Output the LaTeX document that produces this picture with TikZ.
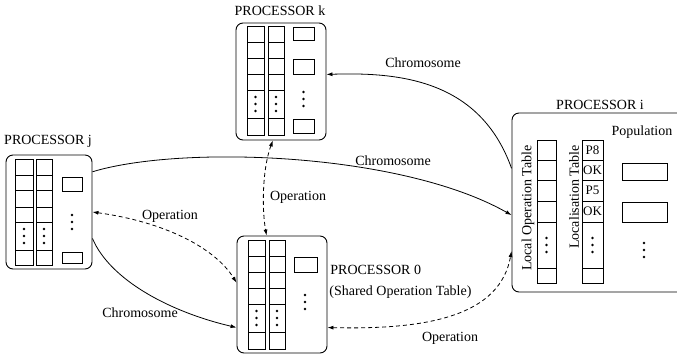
\documentclass[tikz,border=0pt]{standalone}
\usepackage{fontspec}
\setmainfont{Liberation Serif}
\usetikzlibrary{arrows.meta,calc}
\begin{document}
\begin{tikzpicture}[x=1pt,y=-1pt, font=\fontsize{14}{16}\selectfont, line width=0.8pt,
  procbox/.style={draw, rounded corners=7pt, inner sep=0pt, line width=0.9pt},
  cell/.style={draw, line width=0.7pt},
  lbl/.style={inner sep=1pt},
  bdot/.style={fill, circle, inner sep=0pt, minimum size=2.6pt},
  chrom/.style={-{Latex[length=6pt,width=4pt]}},
  oper/.style={dash pattern=on 4pt off 3pt, {Latex[length=6pt,width=4pt]}-{Latex[length=6pt,width=4pt]}}]

\useasboundingbox (0,0) rectangle (677,354);

% processor boxes
\node[procbox, minimum width=86pt, minimum height=114pt] (pj) at (49,212) {};
\node[procbox, minimum width=90pt, minimum height=117pt] (pk) at (281,81.5) {};
\node[procbox, minimum width=90pt, minimum height=117pt] (p0) at (282,294.5) {};
\node[procbox, minimum width=220pt, minimum height=179pt] (pi) at (622,202.5) {};

% processor k contents
\foreach \xa/\xb in {247/264,268/284}{
  \foreach \ya/\yb in {26/42,42/58,58/74,74/90,90/118,118/135}
    \draw[cell] (\xa,\ya) rectangle (\xb,\yb);
  \foreach \yy in {97,104,111}
    \node[bdot] at ({(\xa+\xb)/2},\yy) {};
}
\draw[cell] (293,27) rectangle (314,40);
\draw[cell] (293,59) rectangle (314,74);
\draw[cell] (293,119) rectangle (314,133);
\foreach \yy in {92,99,106} \node[bdot] at (303.5,\yy) {};

% processor 0 contents
\begin{scope}[shift={(1,214)}]
\foreach \xa/\xb in {247/264,268/284}{
  \foreach \ya/\yb in {26/42,42/58,58/74,74/90,90/118,118/135}
    \draw[cell] (\xa,\ya) rectangle (\xb,\yb);
  \foreach \yy in {97,104,111}
    \node[bdot] at ({(\xa+\xb)/2},\yy) {};
}
\end{scope}
\draw[cell] (294,257) rectangle (317,272);
\foreach \yy in {295,302,309} \node[bdot] at (305,\yy) {};

% processor j contents
\foreach \xa/\xb in {15/33,36/52}{
  \foreach \ya/\yb in {159/175,175/190,190/207,207/222,222/250,250/265}
    \draw[cell] (\xa,\ya) rectangle (\xb,\yb);
  \foreach \yy in {229,236,243}
    \node[bdot] at ({(\xa+\xb)/2},\yy) {};
}
\draw[cell] (62,177) rectangle (82,191);
\draw[cell] (62,252) rectangle (82,263);
\foreach \yy in {215,222,229} \node[bdot] at (72,\yy) {};

% processor i contents
\foreach \xa/\xb in {537/556,582/603}{
  \foreach \ya/\yb in {140/160,160/180,180/201,201/222,222/268,268/283}
    \draw[cell] (\xa,\ya) rectangle (\xb,\yb);
  \foreach \yy in {238,245,252}
    \node[bdot] at ({(\xa+\xb)/2},\yy) {};
}
\node[lbl, font=\fontsize{13}{15}\selectfont] at (592.5,150) {P8};
\node[lbl, font=\fontsize{13}{15}\selectfont] at (592.5,170) {OK};
\node[lbl, font=\fontsize{13}{15}\selectfont] at (592.5,190.5) {P5};
\node[lbl, font=\fontsize{13}{15}\selectfont] at (592.5,211.5) {OK};
\node[lbl, rotate=90] at (528,208) {Local Operation Table};
\node[lbl, rotate=90] at (574,197) {Localisation Table};
\node[lbl] at (642,132) {Population};
\draw[cell] (622,163) rectangle (667,180);
\draw[cell] (622,202) rectangle (667,222);
\foreach \yy in {243,250,257} \node[bdot] at (644,\yy) {};

% processor labels
\node[lbl] (lk) at (280,11) {PROCESSOR k};
\node[lbl] (lj) at (48,141) {PROCESSOR j};
\node[lbl] (li) at (600,105) {PROCESSOR i};
\node[lbl, anchor=west] (l0) at (329,270) {PROCESSOR 0};
\node[lbl, anchor=west] (l0b) at (328,292) {(Shared Operation Table)};

% connectors
\draw[chrom] ($(pj.north east)!0.15!(pj.south east)$) .. controls (180,145) and (400,152) .. ($(pi.north west)!0.57!(pi.south west)$);
\draw[chrom] ($(pi.north west)!0.31!(pi.south west)$) .. controls (480,80) and (400,72) .. ($(pk.north east)!0.44!(pk.south east)$);
\draw[oper] ($(pk.south west)!0.41!(pk.south east)$) .. controls (262,170) and (262,210) .. ($(p0.north west)!0.33!(p0.north east)$);
\draw[oper] (pj.east) .. controls (165,222) and (215,248) .. ($(p0.north west)!0.40!(p0.south west)$);
\draw[chrom] ($(pj.north east)!0.73!(pj.south east)$) .. controls (110,280) and (170,312) .. ($(p0.north west)!0.78!(p0.south west)$);
\draw[oper] ($(p0.north east)!0.78!(p0.south east)$) .. controls (430,330) and (500,315) .. ($(pi.north west)!0.77!(pi.south west)$);

% connector labels
\node[lbl] at (423,63) {Chromosome};
\node[lbl] at (393,161) {Chromosome};
\node[lbl] at (298,197) {Operation};
\node[lbl] at (170,216) {Operation};
\node[lbl] at (140,313) {Chromosome};
\node[lbl] at (450,338) {Operation};
\end{tikzpicture}
\end{document}
